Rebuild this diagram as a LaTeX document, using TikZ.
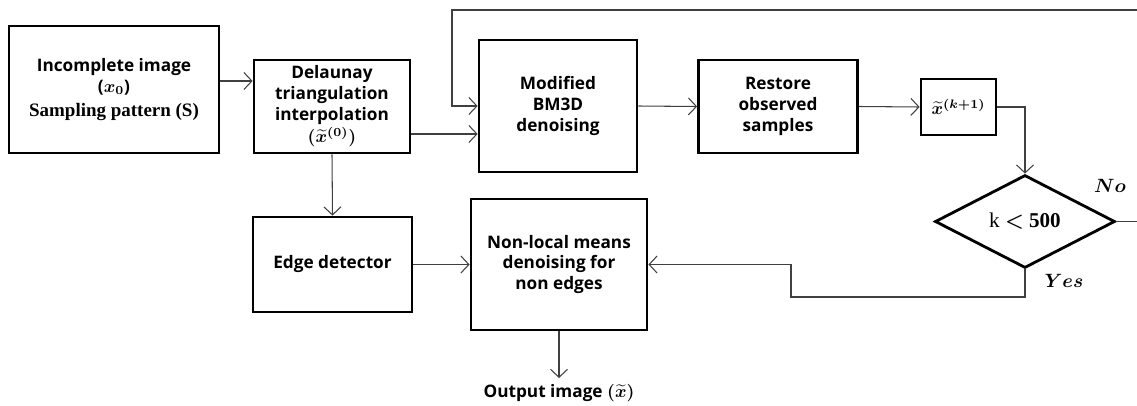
\documentclass[tikz,border=0pt]{standalone}
\usepackage{amsmath}
\usepackage{bm}
\usepackage{fontspec}
\setmainfont{Open Sans}
\newfontfamily\cambriabf{Liberation Serif}
\usetikzlibrary{positioning}
\usetikzlibrary{shapes.geometric}
\usetikzlibrary{arrows.meta}

\begin{document}
\begin{tikzpicture}[x=0.02cm, y=-0.02cm,
    every node/.style={font=\fontsize{9.8}{11.8}\selectfont\bfseries\boldmath},
    block/.style={draw, line width=1.6pt, align=center, inner sep=2pt},
    test/.style={draw, diamond, line width=1.6pt, inner sep=0pt, minimum width=3.6cm, minimum height=1.86cm},
    link/.style={draw=black!75, line width=0.6pt},
    arr/.style={link, -{Straight Barb[length=1.6mm, width=3.4mm]}}]
  \useasboundingbox (0,0) rectangle (1137,406);

  % top row
  \node[block, minimum width=4.2cm, minimum height=2.54cm] (incomplete) at (114,89.5)
    {Incomplete image\\ ($\bm{x}_0$)\\[2pt] {\cambriabf\fontsize{10.8}{12}\selectfont Sampling pattern (S)}};
  \node[block, minimum width=3.12cm, minimum height=1.86cm] (delaunay) at (332,106.5)
    {Delaunay\\ triangulation\\ interpolation\\[1pt] $(\widetilde{\bm{x}}^{(0)})$};
  \node[block, minimum width=3.16cm, minimum height=2.64cm] (bm3d) at (558,106)
    {Modified\\ BM3D\\ denoising};
  \node[block, minimum width=3.18cm, minimum height=1.86cm] (restore) at (778,106.5)
    {Restore\\ observed\\ samples};
  \node[block, minimum width=1.5cm, minimum height=1.12cm] (xk) at (958.5,107)
    {$\widetilde{\bm{x}}^{(\bm{k}+\mathbf{1})}$};
  \node[test] (decision) at (1025,221.5)
    {\cambriabf\fontsize{12}{14}\selectfont{\mdseries k} $<$ 500};

  % bottom row
  \node[block, minimum width=3.18cm, minimum height=1.9cm] (edge) at (332.5,264.5)
    {Edge detector};
  \node[block, minimum width=3.52cm, minimum height=2.62cm] (nonlocal) at (559,264.5)
    {Non-local means\\ denoising for\\ non edges};
  \node (output) at (559,393) {Output image $(\widetilde{\bm{x}})$};

  \node at (1110,186) {\fontsize{11}{13}\selectfont$\bm{No}$};
  \node at (1064,281) {\fontsize{11}{13}\selectfont$\bm{Yes}$};

  \coordinate (loopR) at (1142,10);
  \coordinate (loopL) at (452,10);
  \coordinate (back) at (791,297);

  % connectors
  \draw[arr] (incomplete.east |- 0,81) -- (delaunay.west |- 0,81);
  \draw[arr] (delaunay.east |- 0,134) -- (bm3d.west |- 0,134);
  \draw[arr] (bm3d.east) -- (restore.west);
  \draw[arr] (restore.east) -- (xk.west);
  \draw[arr] (xk.east) -| (decision.north);
  \draw[arr] (decision.east) -| (loopR) -- (loopL) |- (bm3d.west |- 0,106);
  \draw[arr] (decision.south) |- (back) |- (nonlocal.east);
  \draw[arr] (delaunay.south) -- (edge.north);
  \draw[arr] (edge.east) -- (nonlocal.west);
  \draw[arr] (nonlocal.south) -- (output.north);
\end{tikzpicture}
\end{document}
